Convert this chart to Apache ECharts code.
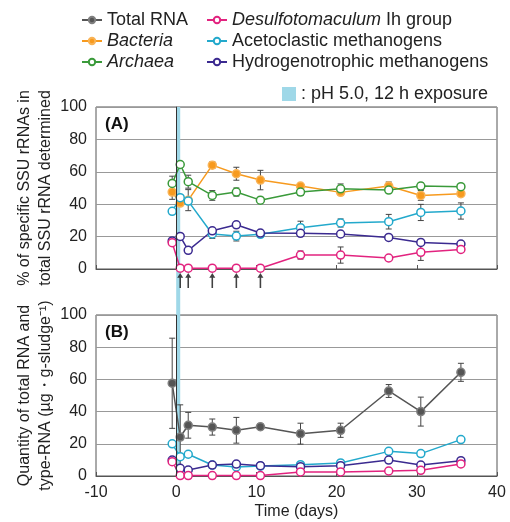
<!DOCTYPE html>
<html>
<head>
<meta charset="utf-8">
<script src="https://cdn.jsdelivr.net/npm/echarts@6/dist/echarts.min.js"></script>
<style>
html, body { margin: 0; padding: 0; background: #fff; }
#chart { width: 510px; height: 522px; }
</style>
</head>
<body>
<div id="chart"></div>
<script>
// sampling days
var days = [-0.5, 0.5, 1.5, 4.5, 7.5, 10.5, 15.5, 20.5, 26.5, 30.5, 35.5]
var arrowDays = [0.5, 1.5, 4.5, 7.5, 10.5]
var exposure = [0, 0.5]
var yTicks = [0, 20, 40, 60, 80, 100]
var xTicks = [-10, 0, 10, 20, 30, 40]

// (A) % of SSU rRNA
var bacteriaA = [47.5, 40.7, 42.5, 64.1, 58.8, 54.9, 51.2, 47.3, 51.2, 45.4, 46.5]
var archaeaA = [52.8, 64.5, 53.9, 45.4, 47.5, 42.5, 47.5, 49.5, 48.7, 51.2, 50.8]
var desulfoA = [16.2, 0.5, 0.5, 0.5, 0.5, 0.5, 8.6, 8.6, 6.8, 10.3, 12.1]
var acetoA = [35.6, 44.0, 41.9, 21.6, 20.3, 21.4, 25.5, 28.4, 29.2, 34.9, 35.8]
var hydroA = [17.3, 20.1, 11.5, 23.6, 27.3, 22.2, 22.0, 21.6, 19.5, 16.4, 15.4]
var bacteriaErrA = [4.5, 0, 6.5, 2, 4, 6, 1.5, 0, 2.5, 3, 0]
var archaeaErrA = [4.5, 0, 4, 3, 2.5, 0, 2, 3, 0, 2, 0]
var desulfoErrA = [0, 0, 0, 0, 0, 0, 2.5, 5, 0, 5, 0]
var acetoErrA = [0, 0, 0, 2.7, 3, 0, 4, 2.5, 4.5, 5, 5]
var hydroErrA = [0, 0, 0, 0, 0, 0, 0, 0, 0, 0, 0]

// (B) quantity (ug / g-sludge)
var totalB = [57.6, 24.2, 31.5, 30.4, 28.4, 30.6, 26.3, 28.4, 52.8, 40.0, 64.4]
var totalErrB = [28, 20, 8, 5, 8, 1.7, 6.5, 4.4, 4, 9, 5.6]
var acetoB = [20.0, 12.0, 13.5, 6.8, 5.6, 6.2, 7.0, 8.1, 15.3, 13.9, 22.6]
var hydroB = [9.9, 4.8, 3.7, 6.8, 7.4, 6.4, 5.8, 6.4, 9.9, 6.8, 9.5]
var desulfoB = [8.9, 0.3, 0.3, 0.3, 0.3, 0.3, 2.5, 2.5, 3.1, 3.5, 7.5]

var names = ['Total RNA', 'Bacteria', 'Archaea', 'Desulfotomaculum Ih group',
  'Acetoclastic methanogens', 'Hydrogenotrophic methanogens']
var bandName = ': pH 5.0, 12 h exposure'

var font = "'Liberation Sans', Arial, sans-serif"
var chart = echarts.init(document.getElementById('chart'))

function pairs(vals) {
  return days.map(function(d, i) { return [d, vals[i]] })
}

function lineSeries(name, vals, color, filled, idx) {
  return {
    name: name,
    type: 'line',
    xAxisIndex: idx,
    yAxisIndex: idx,
    data: pairs(vals),
    symbol: 'circle',
    symbolSize: 8,
    z: 4,
    lineStyle: { color: color, width: 1.5 },
    itemStyle: {
      color: filled ? color : '#fff',
      borderColor: filled ? echarts.color.lift(color, 0.25) : color,
      borderWidth: 1.5
    }
  }
}

function errSeries(vals, errs, idx) {
  var data = []
  vals.forEach(function(v, i) {
    if (errs[i] > 0) data.push([days[i], v - errs[i], v + errs[i]])
  })
  return {
    type: 'custom',
    xAxisIndex: idx,
    yAxisIndex: idx,
    z: 3,
    silent: true,
    data: data,
    renderItem: function(params, api) {
      var lo = api.coord([api.value(0), api.value(1)])
      var hi = api.coord([api.value(0), api.value(2)])
      var st = { stroke: '#444', lineWidth: 1 }
      return {
        type: 'group',
        children: [
          { type: 'line', shape: { x1: lo[0], y1: lo[1], x2: hi[0], y2: hi[1] }, style: st },
          { type: 'line', shape: { x1: lo[0] - 3, y1: lo[1], x2: lo[0] + 3, y2: lo[1] }, style: st },
          { type: 'line', shape: { x1: hi[0] - 3, y1: hi[1], x2: hi[0] + 3, y2: hi[1] }, style: st }
        ]
      }
    }
  }
}

function bandSeries(idx, withAxisLine) {
  var s = {
    name: bandName,
    type: 'line',
    xAxisIndex: idx,
    yAxisIndex: idx,
    data: [],
    z: 1,
    itemStyle: { color: '#9fd8e8' },
    markArea: {
      silent: true,
      itemStyle: { color: '#9fd8e8' },
      data: [[{ xAxis: exposure[0] }, { xAxis: exposure[1] }]]
    }
  }
  if (withAxisLine) {
    s.markLine = {
      silent: true,
      symbol: 'none',
      label: { show: false },
      lineStyle: { color: '#333', type: 'solid', width: 1 },
      data: [{ xAxis: 0 }]
    }
  }
  return s
}

function xAxisFor(idx, labels) {
  return {
    type: 'value',
    gridIndex: idx,
    min: xTicks[0],
    max: xTicks[xTicks.length - 1],
    interval: 10,
    show: idx !== 2,
    axisLine: { show: true, onZero: false, lineStyle: { color: '#555' } },
    axisTick: { show: true, inside: true, length: 4, lineStyle: { color: '#555' } },
    splitLine: { show: false },
    axisLabel: { show: labels, color: '#222', fontSize: 16, fontFamily: font, margin: 9 },
    name: labels ? 'Time (days)' : '',
    nameLocation: 'middle',
    nameGap: 28,
    nameMoveOverlap: false,
    nameTextStyle: { color: '#222', fontSize: 16, fontFamily: font }
  }
}

function yAxisFor(idx, name) {
  return {
    type: 'value',
    gridIndex: idx,
    min: yTicks[0],
    max: yTicks[yTicks.length - 1],
    interval: 20,
    axisLine: { show: true, lineStyle: { color: '#555' } },
    axisTick: { show: false },
    splitLine: { show: true, lineStyle: { color: '#999', width: 1 } },
    axisLabel: { color: '#222', fontSize: 16, fontFamily: font, margin: 9 },
    name: name,
    nameLocation: 'middle',
    nameGap: 40,
    nameMoveOverlap: false,
    nameTextStyle: { color: '#222', fontSize: 16, fontFamily: font, lineHeight: 21 }
  }
}

var legendText = {
  color: '#222',
  fontSize: 18,
  fontFamily: font,
  lineHeight: 20,
  rich: { i: { fontStyle: 'italic', fontSize: 18, fontFamily: font, lineHeight: 20 } }
}
function legendFmt(n) {
  if (n === 'Bacteria' || n === 'Archaea') return '{i|' + n + '}'
  if (n.indexOf('Desulfotomaculum') === 0) return '{i|Desulfotomaculum} Ih group'
  return n
}

var cGray = '#555555', cOrange = '#f79a1e', cGreen = '#3a9a3a',
  cPink = '#e2237f', cCyan = '#23a9cc', cPurple = '#3b2a90'

var series = [
  bandSeries(0, true),
  bandSeries(1, true),
  bandSeries(2, false),
  errSeries(bacteriaA, bacteriaErrA, 0),
  errSeries(archaeaA, archaeaErrA, 0),
  errSeries(desulfoA, desulfoErrA, 0),
  errSeries(acetoA, acetoErrA, 0),
  errSeries(hydroA, hydroErrA, 0),
  lineSeries(names[1], bacteriaA, cOrange, true, 0),
  lineSeries(names[2], archaeaA, cGreen, false, 0),
  lineSeries(names[4], acetoA, cCyan, false, 0),
  lineSeries(names[5], hydroA, cPurple, false, 0),
  lineSeries(names[3], desulfoA, cPink, false, 0),
  errSeries(totalB, totalErrB, 1),
  lineSeries(names[0], totalB, cGray, true, 1),
  lineSeries(names[4], acetoB, cCyan, false, 1),
  lineSeries(names[5], hydroB, cPurple, false, 1),
  lineSeries(names[3], desulfoB, cPink, false, 1),
  {
    type: 'scatter',
    xAxisIndex: 2,
    yAxisIndex: 2,
    silent: true,
    z: 4,
    symbol: 'path://M5,0 L10,7 L6.3,7 L6.3,22 L3.7,22 L3.7,7 L0,7 Z',
    symbolSize: [6, 15],
    itemStyle: { color: '#111' },
    data: arrowDays.map(function(d) { return [d, 0.75] })
  }
]

chart.setOption({
  animation: false,
  textStyle: { fontFamily: font },
  title: [
    { text: '(A)', left: 105, top: 116, padding: 0, textStyle: { fontSize: 17, fontWeight: 'bold', color: '#111', fontFamily: font } },
    { text: '(B)', left: 105, top: 324, padding: 0, textStyle: { fontSize: 17, fontWeight: 'bold', color: '#111', fontFamily: font } }
  ],
  legend: [
    {
      data: names.slice(0, 3), left: 81, top: 10, orient: 'vertical', padding: 0,
      itemGap: 1, itemWidth: 20, itemHeight: 8, textStyle: legendText, formatter: legendFmt
    },
    {
      data: names.slice(3), left: 206, top: 10, orient: 'vertical', padding: 0,
      itemGap: 1, itemWidth: 20, itemHeight: 8, textStyle: legendText, formatter: legendFmt
    },
    {
      data: [{ name: bandName, icon: 'rect' }], left: 282, top: 85, padding: 0,
      itemWidth: 14, itemHeight: 14, itemGap: 6,
      textStyle: { color: '#222', fontSize: 18, fontFamily: font }
    }
  ],
  grid: [
    { left: 96, right: 13, top: 107, height: 162, show: true, borderColor: '#555', borderWidth: 1 },
    { left: 96, right: 13, top: 315, height: 161, show: true, borderColor: '#555', borderWidth: 1 },
    { left: 96, right: 13, top: 269, height: 46 }
  ],
  xAxis: [xAxisFor(0, false), xAxisFor(1, true), xAxisFor(2, false)],
  yAxis: [
    yAxisFor(0, '% of specific SSU rRNAs in\ntotal SSU rRNA determined'),
    yAxisFor(1, 'Quantity of total RNA and\ntype-RNA (µg・g-sludge⁻¹)'),
    { type: 'value', gridIndex: 2, min: 0, max: 1, show: false }
  ],
  series: series
})
</script>
</body>
</html>
